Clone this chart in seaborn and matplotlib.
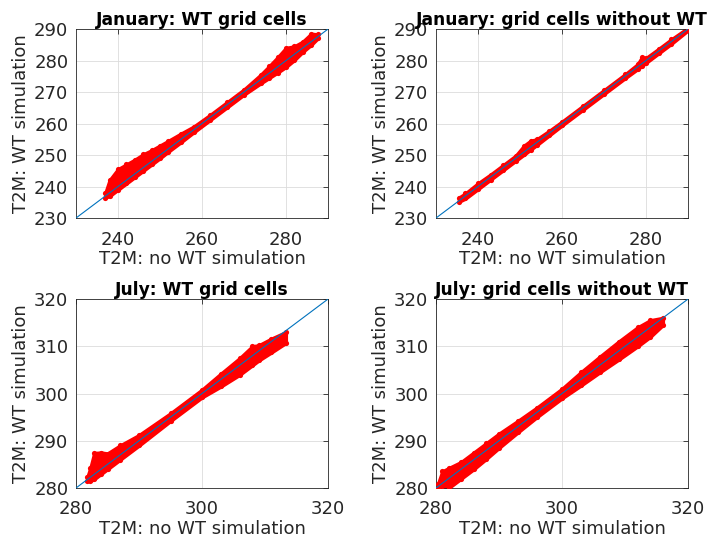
import matplotlib.pyplot as plt
import pandas as pd
import seaborn as sns

sns.set_style('white')
plt.rcParams['font.family'] = ['DejaVu Sans']
plt.rcParams['axes.edgecolor'] = '#262626'
plt.rcParams['text.color'] = '#000000'
plt.rcParams['xtick.color'] = '#262626'
plt.rcParams['ytick.color'] = '#262626'

# x positions along each cloud and how far the red band reaches above/below the 1:1 line
jan_wt_x = [237, 238, 240, 242, 244, 246, 248, 250, 252, 255, 258, 262, 266, 270,
            274, 276, 278, 280, 282, 284, 286, 287.5]
jan_wt_up = [1.0, 4.0, 5.5, 5.0, 4.5, 4.2, 3.5, 3.0, 2.5, 1.8, 1.0, 0.8, 0.8, 0.8,
             1.5, 2.2, 3.0, 4.0, 2.5, 2.0, 2.5, 0.8]
jan_wt_lo = [-0.5, -1.0, -1.0, -1.0, -1.0, -1.0, -1.0, -1.0, -0.9, -0.9, -0.8, -0.8, -0.8, -0.8,
             -1.2, -1.5, -1.8, -2.0, -1.8, -1.2, -1.0, -0.5]

jan_no_x = [235.5, 237, 240, 243, 246, 249, 251, 252.5, 254, 257, 260, 265, 270,
            275, 278, 279, 280, 283, 286, 290]
jan_no_up = [1.0, 0.8, 1.0, 0.8, 0.8, 0.8, 2.0, 2.0, 1.0, 0.7, 0.6, 0.6, 0.6,
             0.6, 0.8, 2.0, 0.8, 0.7, 0.7, 0.4]
jan_no_lo = [-0.3, -0.8, -0.8, -0.8, -0.8, -0.8, -0.8, -0.8, -0.8, -0.7, -0.6, -0.6, -0.6,
             -0.6, -0.7, -0.7, -0.7, -0.7, -0.7, -0.4]

jul_wt_x = [281.8, 282.3, 282.9, 284, 285, 287, 290, 295, 300, 303, 306, 308, 309,
            311, 313.3]
jul_wt_up = [0.5, 2.0, 4.5, 3.5, 2.3, 2.0, 1.2, 0.8, 0.8, 1.2, 1.5, 2.0, 1.2, 0.6, -0.3]
jul_wt_lo = [-0.3, -0.8, -1.0, -1.0, -1.0, -1.0, -1.0, -0.8, -0.8, -1.5, -2.0, -2.0, -2.0,
             -2.3, -2.6]

jul_no_x = [280.3, 281, 282, 284, 286, 288, 290, 293, 296, 300, 303, 306, 309, 312,
            314, 316]
jul_no_up = [0.5, 2.5, 2.2, 1.5, 1.5, 1.5, 1.5, 1.2, 1.0, 1.0, 1.5, 1.8, 2.0, 2.0, 1.5, 0.0]
jul_no_lo = [-0.3, -1.5, -2.0, -2.0, -2.0, -1.8, -1.5, -1.2, -1.0, -1.0, -1.3, -1.5, -1.8,
             -2.0, -2.0, -1.5]

panels = [
    ('January: WT grid cells', jan_wt_x, jan_wt_up, jan_wt_lo, [230, 290],
     [240, 260, 280], [230, 240, 250, 260, 270, 280, 290]),
    ('January: grid cells without WT', jan_no_x, jan_no_up, jan_no_lo, [230, 290],
     [240, 260, 280], [230, 240, 250, 260, 270, 280, 290]),
    ('July: WT grid cells', jul_wt_x, jul_wt_up, jul_wt_lo, [280, 320],
     [280, 300, 320], [280, 290, 300, 310, 320]),
    ('July: grid cells without WT', jul_no_x, jul_no_up, jul_no_lo, [280, 320],
     [280, 300, 320], [280, 290, 300, 310, 320]),
]

fig = plt.figure(figsize=(7.07, 5.43), dpi=100)
positions = [
    [0.1075, 0.5985, 0.3565, 0.348],
    [0.6167, 0.5985, 0.3565, 0.348],
    [0.1075, 0.1013, 0.3565, 0.348],
    [0.6167, 0.1013, 0.3565, 0.348],
]

for pos, (title, xs, up, lo, lims, xt, yt) in zip(positions, panels):
    ax = fig.add_axes(pos)
    df = pd.DataFrame({'x': xs, 'up': up, 'lo': lo})
    df['top'] = df['x'] + df['up']
    df['bottom'] = df['x'] + df['lo']

    ax.fill_between(df['x'], df['bottom'], df['top'], color='red', lw=2.5,
                    edgecolor='red', zorder=2)
    edges = pd.concat([
        df[['x', 'top']].rename(columns={'top': 'y'}),
        df[['x', 'bottom']].rename(columns={'bottom': 'y'}),
    ])
    sns.scatterplot(data=edges, x='x', y='y', ax=ax, color='red', s=14,
                    linewidth=0, zorder=3)

    # 1:1 reference line
    ax.plot(lims, lims, color='#0072BD', lw=0.8, zorder=4)

    ax.set_xlim(lims)
    ax.set_ylim(lims)
    ax.set_xticks(xt)
    ax.set_yticks(yt)
    ax.grid(True, color='#dcdcdc', lw=0.6)
    ax.set_axisbelow(True)
    ax.tick_params(direction='in', top=True, right=True, length=3.5, width=0.6,
                   labelsize=13)
    ax.tick_params(axis='x', pad=9)
    ax.tick_params(axis='y', pad=5.5)
    for sp in ax.spines.values():
        sp.set_linewidth(0.6)
        sp.set_color('#262626')
    ax.set_xlabel('T2M: no WT simulation', fontsize=13, color='#262626', labelpad=1)
    ax.set_ylabel('T2M: WT simulation', fontsize=13, color='#262626', labelpad=3)
    ax.set_title(title, fontsize=12.3, fontweight='bold', pad=3)

plt.savefig('out.png', dpi=100)
